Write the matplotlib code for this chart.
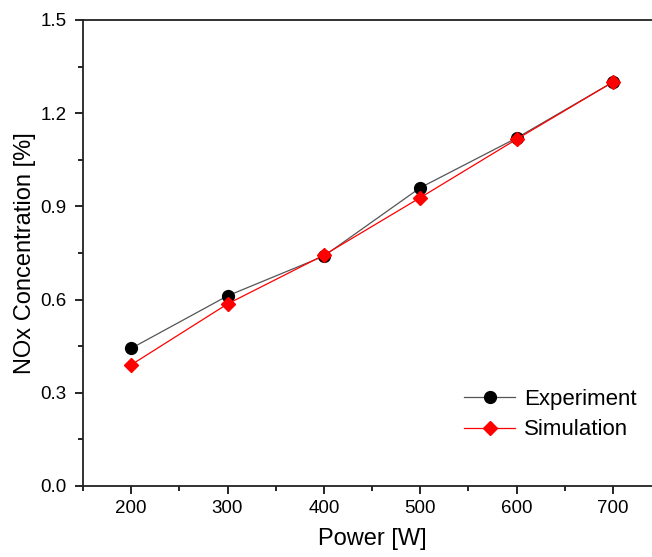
import matplotlib
matplotlib.use("Agg")
import matplotlib.pyplot as plt
from matplotlib.ticker import MultipleLocator

power = [200, 300, 400, 500, 600, 700]
experiment = [0.443, 0.612, 0.740, 0.960, 1.120, 1.300]
simulation = [0.390, 0.586, 0.743, 0.928, 1.116, 1.300]
xticks = [200, 300, 400, 500, 600, 700]
yticks = [0.0, 0.3, 0.6, 0.9, 1.2, 1.5]

plt.rcParams['font.family'] = ['Liberation Sans', 'DejaVu Sans']

fig = plt.figure(figsize=(6.52, 5.57), dpi=100)
ax = fig.add_axes([83/652, 71/557, 578/652, 466/557])

ax.plot(power, experiment, color='#555555', lw=0.9, marker='o', ms=8.5,
        mfc='black', mec='black', label='Experiment')
ax.plot(power, simulation, color='red', lw=0.9, marker='D', ms=7.5,
        mfc='red', mec='red', label='Simulation')

ax.set_xlim(150, 750)
ax.set_ylim(0, 1.5)
ax.set_xticks(xticks)
ax.set_yticks(yticks)
ax.set_yticklabels([f"{v:.1f}" for v in yticks])
ax.xaxis.set_minor_locator(MultipleLocator(50))
ax.yaxis.set_minor_locator(MultipleLocator(0.15))
ax.tick_params(which='major', direction='out', length=6, width=1.2, labelsize=13.5,
               colors='black', pad=4)
ax.tick_params(axis='y', which='major', pad=6)
ax.tick_params(which='minor', direction='out', length=3.5, width=1.2)
for s in ax.spines.values():
    s.set_linewidth(1.3)
    s.set_color('#222222')

ax.set_xlabel('Power [W]', fontsize=17, labelpad=8)
ax.set_ylabel('NOx Concentration [%]', fontsize=17, labelpad=3)

leg = ax.legend(loc='lower right', bbox_to_anchor=(0.993, 0.055), frameon=False,
                fontsize=16, handlelength=2.3, handletextpad=0.4, labelspacing=0.42)

fig.savefig('out.png', dpi=100)
